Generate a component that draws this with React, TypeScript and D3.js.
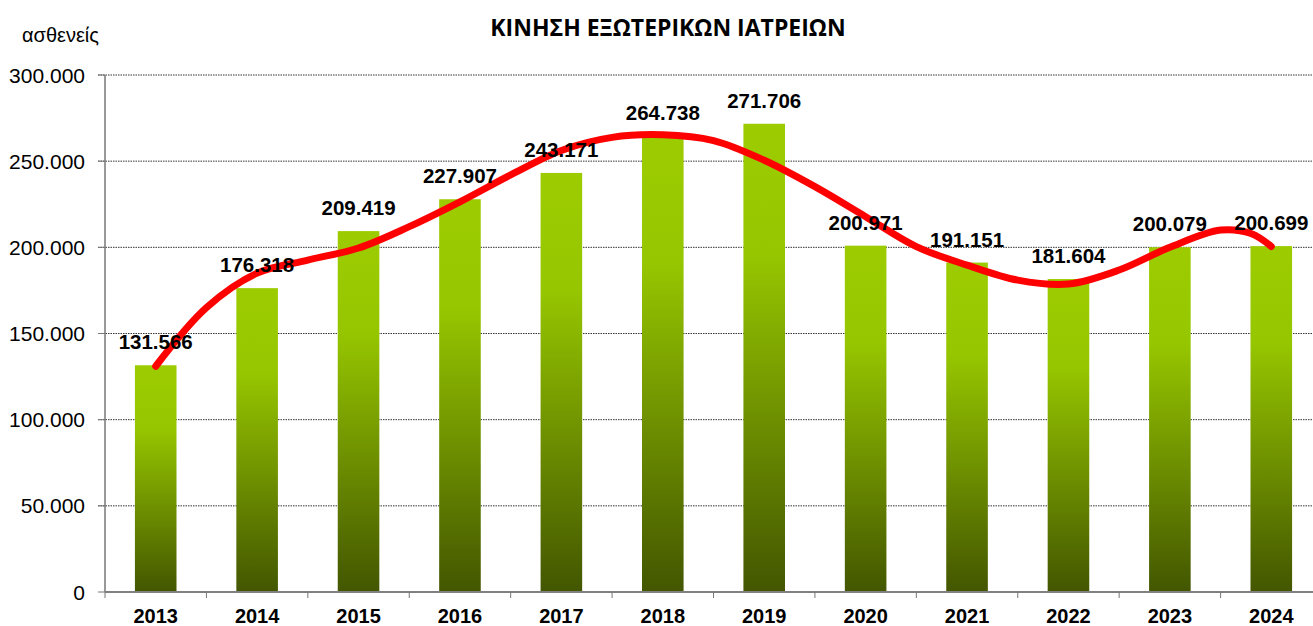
import React, { useEffect, useRef } from "react";
import * as d3 from "d3";

const width = 1313;
const height = 626;

const title = "ΚΙΝΗΣΗ ΕΞΩΤΕΡΙΚΩΝ ΙΑΤΡΕΙΩΝ";
const yLabel = "ασθενείς";

const years = ["2013", "2014", "2015", "2016", "2017", "2018", "2019", "2020", "2021", "2022", "2023", "2024"];
const patients = [131566, 176318, 209419, 227907, 243171, 264738, 271706, 200971, 191151, 181604, 200079, 200699];
const yTicks = [0, 50000, 100000, 150000, 200000, 250000, 300000];

// red smoothed curve (year position, value)
const trendYears = [2013, 2013.5, 2014, 2014.5, 2015, 2015.5, 2016, 2016.5, 2017, 2017.5, 2018, 2018.5, 2019, 2019.5, 2020, 2020.5, 2021, 2021.5, 2022, 2022.5, 2023, 2023.5, 2023.8, 2024];
const trendValues = [131000, 165000, 185000, 192600, 199600, 212000, 226400, 242000, 256200, 263800, 265300, 261900, 250500, 235200, 217800, 200400, 189700, 181000, 178700, 186800, 200000, 210000, 208000, 200500];

const gr = d3.formatLocale({ decimal: ",", thousands: ".", grouping: [3], currency: ["", "€"] });
const fmt = gr.format(",d");

const App = () => {
  const svgRef = useRef<SVGSVGElement>(null);

  useEffect(() => {
    const svg = d3.select(svgRef.current).attr("width", width).attr("height", height);
    svg.selectAll("*").remove();

    const margin = { top: 75, right: -9, bottom: 34, left: 105 };
    const innerW = width - margin.left - margin.right;
    const innerH = height - margin.top - margin.bottom;

    const defs = svg.append("defs");
    const grad = defs
      .append("linearGradient")
      .attr("id", "barGrad")
      .attr("x1", 0)
      .attr("y1", 0)
      .attr("x2", 0)
      .attr("y2", 1);
    grad.append("stop").attr("offset", "0%").attr("stop-color", "#9ccc00");
    grad.append("stop").attr("offset", "28%").attr("stop-color", "#96c600");
    grad.append("stop").attr("offset", "100%").attr("stop-color", "#435600");

    const g = svg.append("g").attr("transform", `translate(${margin.left},${margin.top})`);

    const x = d3.scaleBand().domain(years).range([0, innerW]).paddingInner(0.59).paddingOuter(0.295);
    const y = d3.scaleLinear().domain([0, 300000]).range([innerH, 0]);
    const xYear = d3
      .scaleLinear()
      .domain([2013, 2024])
      .range([x("2013")! + x.bandwidth() / 2, x("2024")! + x.bandwidth() / 2]);

    // gridlines
    g.selectAll(".grid")
      .data(yTicks.filter((d) => d > 0))
      .enter()
      .append("line")
      .attr("x1", -7)
      .attr("x2", width - margin.left)
      .attr("y1", (d) => y(d))
      .attr("y2", (d) => y(d))
      .attr("stroke", "#333")
      .attr("stroke-width", 1)
      .attr("stroke-dasharray", "1.5 1");

    // y axis
    g.append("line").attr("x1", 0).attr("x2", 0).attr("y1", 0).attr("y2", innerH).attr("stroke", "#777").attr("stroke-width", 1.5);
    g.selectAll(".ytick")
      .data(yTicks)
      .enter()
      .append("line")
      .attr("x1", -7)
      .attr("x2", 0)
      .attr("y1", (d) => y(d))
      .attr("y2", (d) => y(d))
      .attr("stroke", "#777");
    g.selectAll(".ylab")
      .data(yTicks)
      .enter()
      .append("text")
      .attr("x", -20)
      .attr("y", (d) => y(d))
      .attr("dy", "0.36em")
      .attr("text-anchor", "end")
      .style("font-family", "'Liberation Sans', Arial, sans-serif")
      .style("font-size", "21px")
      .text((d) => fmt(d));

    // bars
    g.selectAll(".bar")
      .data(patients)
      .enter()
      .append("rect")
      .attr("x", (d, i) => x(years[i])!)
      .attr("y", (d) => y(d))
      .attr("width", x.bandwidth())
      .attr("height", (d) => innerH - y(d))
      .attr("fill", "url(#barGrad)");

    // x axis
    g.append("line").attr("x1", 0).attr("x2", width).attr("y1", innerH).attr("y2", innerH).attr("stroke", "#808080").attr("stroke-width", 2);
    g.selectAll(".xtick")
      .data(d3.range(years.length + 1))
      .enter()
      .append("line")
      .attr("x1", (i) => i * x.step())
      .attr("x2", (i) => i * x.step())
      .attr("y1", innerH)
      .attr("y2", innerH + 6)
      .attr("stroke", "#777");
    g.selectAll(".xlab")
      .data(years)
      .enter()
      .append("text")
      .attr("x", (d) => x(d)! + x.bandwidth() / 2)
      .attr("y", innerH + 31)
      .attr("text-anchor", "middle")
      .style("font-family", "'Liberation Sans', Arial, sans-serif")
      .style("font-weight", "bold")
      .style("font-size", "20px")
      .text((d) => d);

    // trend curve
    const line = d3
      .line<number>()
      .x((d, i) => xYear(trendYears[i]))
      .y((d) => y(d))
      .curve(d3.curveCatmullRom.alpha(0.5));
    g.append("path")
      .attr("d", line(trendValues))
      .attr("fill", "none")
      .attr("stroke", "#ff0000")
      .attr("stroke-width", 7)
      .attr("stroke-linecap", "round")
      .attr("stroke-linejoin", "round");

    // value labels
    g.selectAll(".vlab")
      .data(patients)
      .enter()
      .append("text")
      .attr("x", (d, i) => x(years[i])! + x.bandwidth() / 2)
      .attr("y", (d) => y(d) - 16)
      .attr("text-anchor", "middle")
      .style("font-family", "'Liberation Sans', Arial, sans-serif")
      .style("font-weight", "bold")
      .style("font-size", "20.5px")
      .text((d) => fmt(d));

    // titles
    svg
      .append("text")
      .attr("x", 668)
      .attr("y", 36)
      .attr("text-anchor", "middle")
      .style("font-family", "'Open Sans', sans-serif")
      .style("font-weight", "bold")
      .style("font-size", "23px")
      .text(title);
    svg
      .append("text")
      .attr("x", 22)
      .attr("y", 42)
      .style("font-family", "'Liberation Sans', Arial, sans-serif")
      .style("font-size", "20px")
      .text(yLabel);
  }, []);

  return (
    <div style={{ position: "absolute", left: 0, top: 0 }}>
      <svg ref={svgRef} style={{ display: "block" }}></svg>
    </div>
  );
};

export default App;
